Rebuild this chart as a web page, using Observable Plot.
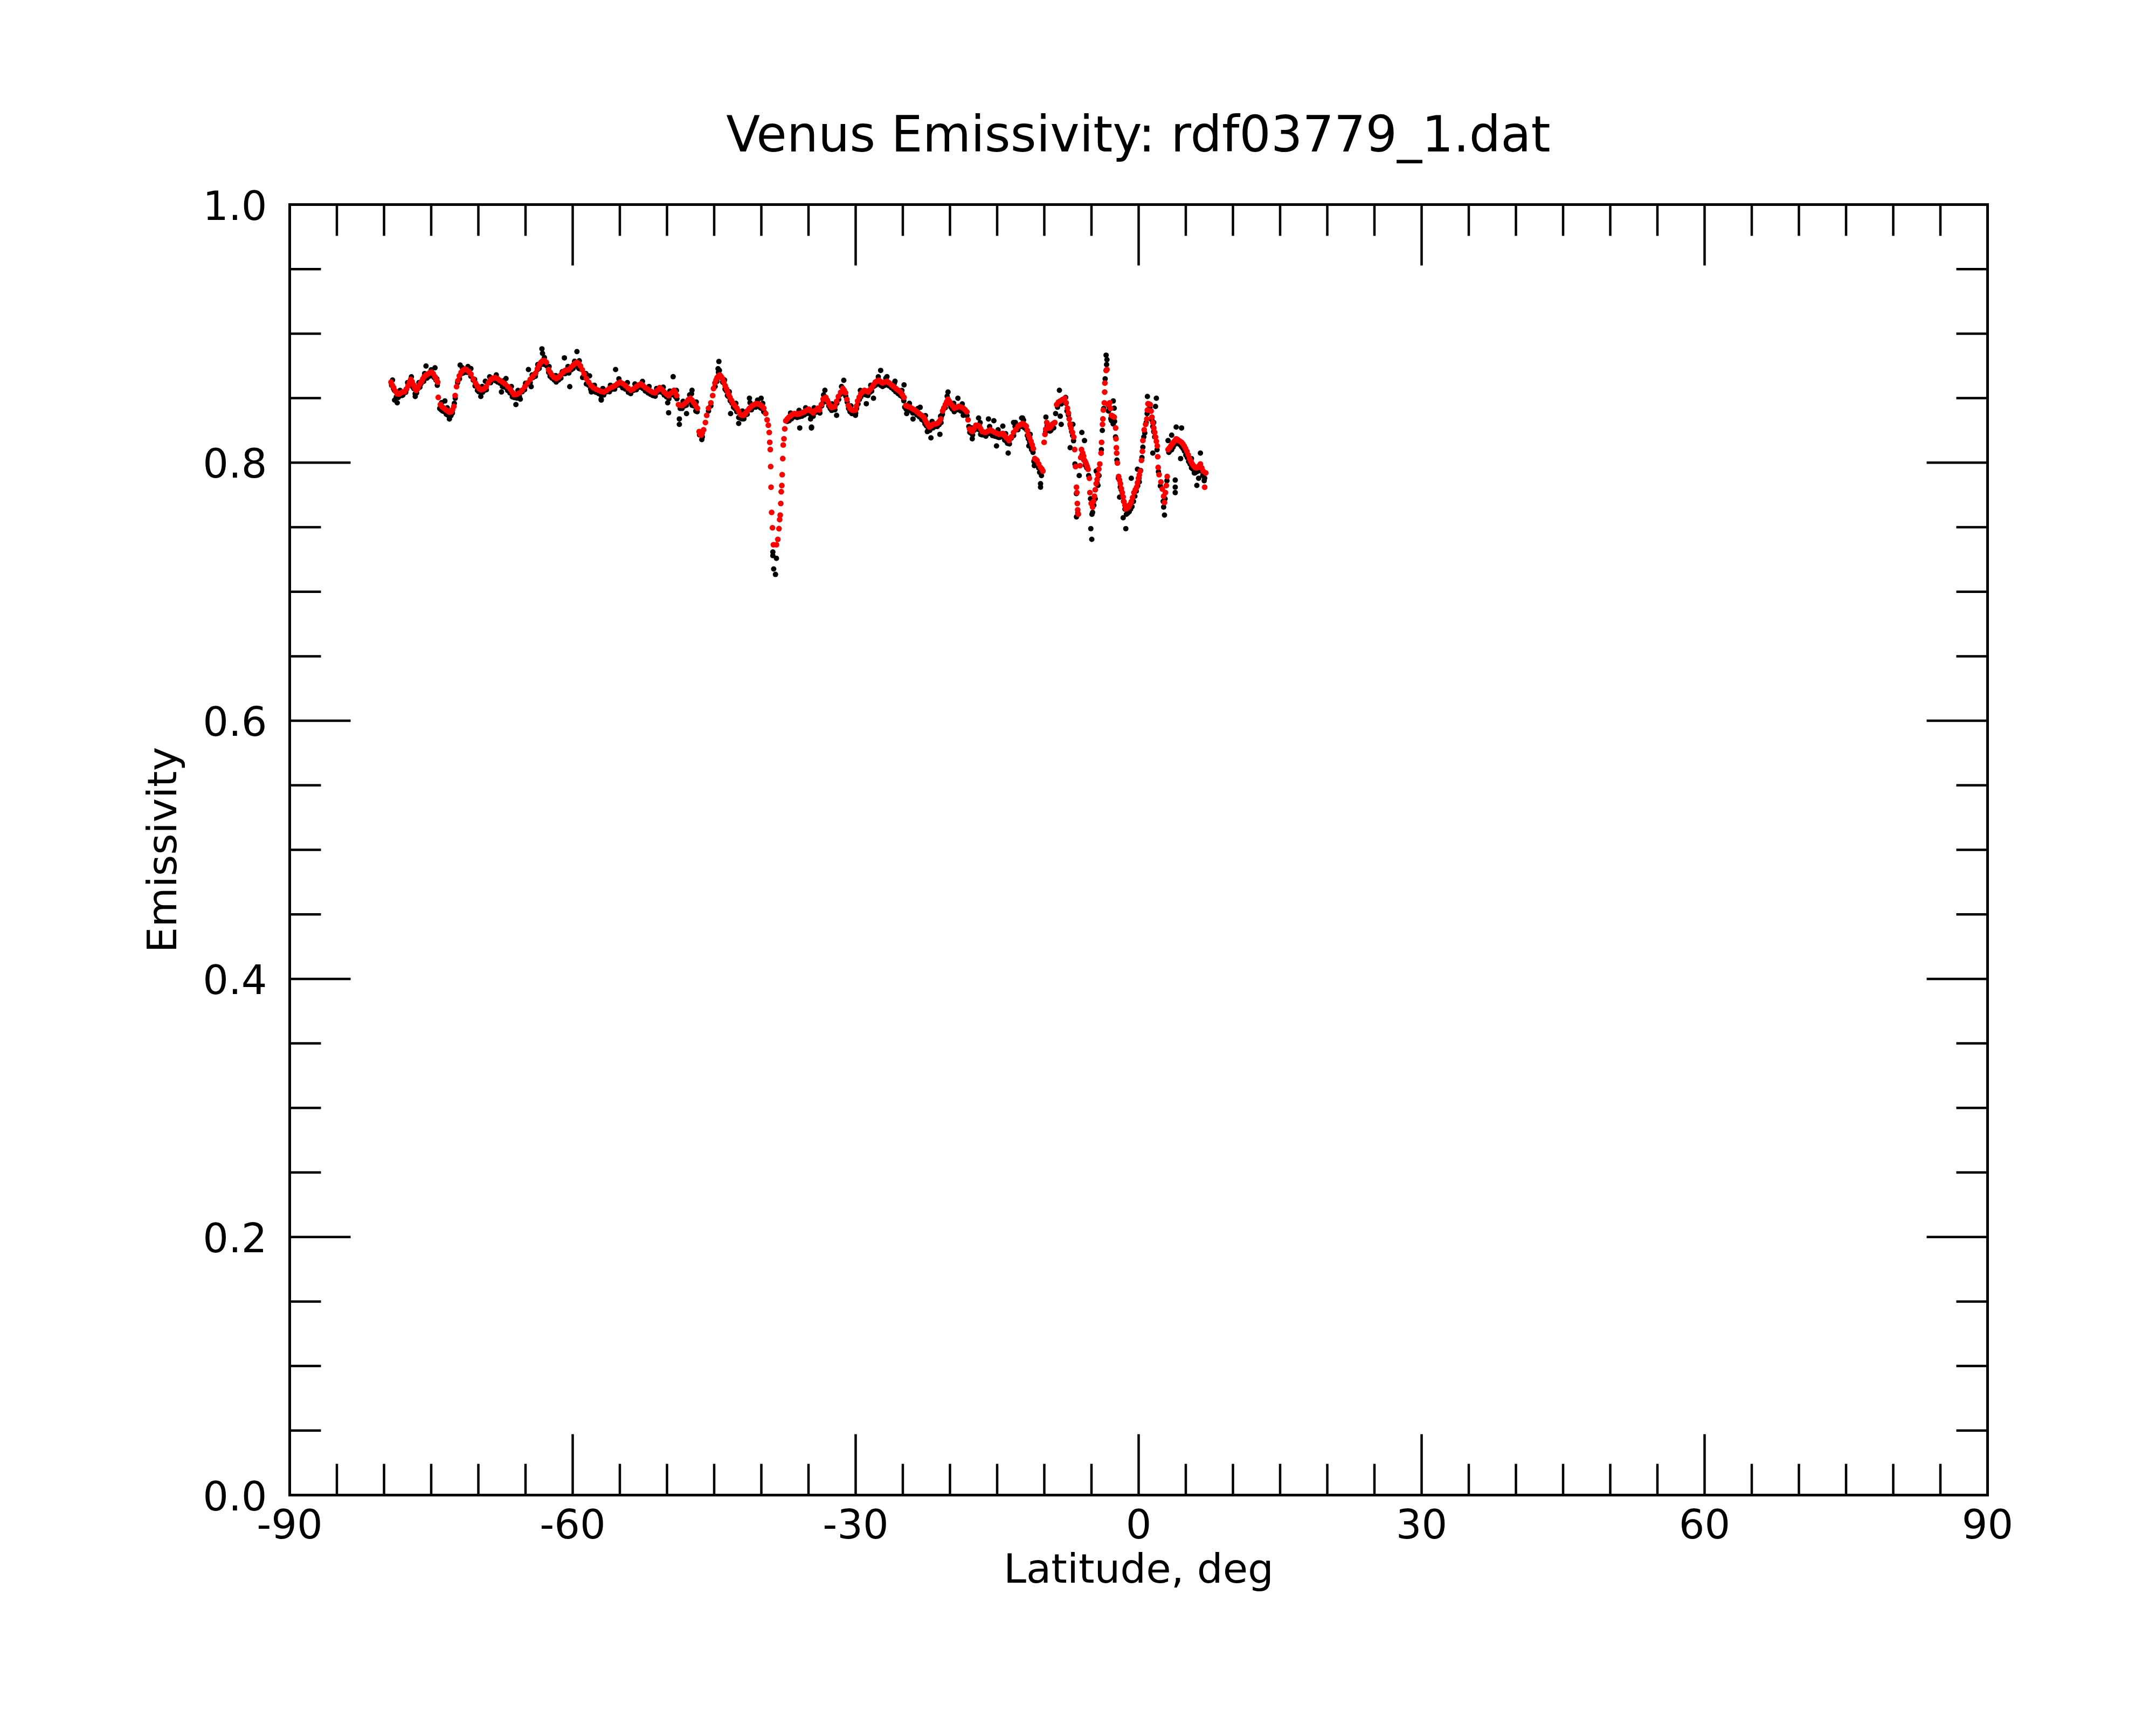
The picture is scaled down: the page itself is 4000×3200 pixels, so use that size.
<!DOCTYPE html>
<html>
<head>
<meta charset="utf-8">
<script src="https://cdn.jsdelivr.net/npm/d3@7"></script>
<script src="https://cdn.jsdelivr.net/npm/@observablehq/plot@0.6"></script>
<style>
  html, body { margin: 0; padding: 0; background: #fff; }
  #page { width: 4000px; height: 3200px; position: relative; background: #fff; font-family: "DejaVu Sans", sans-serif; }
  #title { position: relative; height: 330px; width: 4000px; }
  #title span { position: absolute; left: 537px; width: 3150px; top: 204px; text-align: center;
    font-size: 92px; line-height: 92px; color: #000; white-space: nowrap; }
  #chart svg { display: block; }
</style>
</head>
<body>
<div id="page">
  <div id="title"><span>Venus Emissivity: rdf03779_1.dat</span></div>
  <div id="chart"></div>
</div>
<script>
// ---- tick definitions ----
const xMajorTicks = [-90, -60, -30, 0, 30, 60, 90];
const xMinorTicks = [-85,-80,-75,-70,-65,-55,-50,-45,-40,-35,-25,-20,-15,-10,-5,5,10,15,20,25,35,40,45,50,55,65,70,75,80,85];
const yMajorTicks = [0, 0.2, 0.4, 0.6, 0.8, 1.0];
const yMinorTicks = [0.05,0.1,0.15,0.25,0.3,0.35,0.45,0.5,0.55,0.65,0.7,0.75,0.85,0.9,0.95];
const xTickLabels = ["-90", "-60", "-30", "0", "30", "60", "90"];
const yTickLabels = ["0.0", "0.2", "0.4", "0.6", "0.8", "1.0"];
const xLabel = "Latitude, deg";
const yLabel = "Emissivity";

// ---- smoothed emissivity (red), [latitude, emissivity] ----
const smoothed = [
[-79.26,.8624],[-78.98,.8582],[-78.60,.8534],[-78.21,.8541],[-77.83,.8550],[-77.45,.8596],[-77.17,.8645],[-76.88,.8603],
[-76.60,.8561],[-76.31,.8596],[-76.02,.8630],[-75.74,.8666],[-75.36,.8687],[-74.98,.8701],[-74.60,.8666],[-74.31,.8624],
[-74.25,.8506],[-74.02,.8450],[-73.64,.8422],[-73.26,.8401],[-72.88,.8394],[-72.60,.8436],[-72.46,.8520],[-72.31,.8589],
[-72.02,.8673],[-71.64,.8715],[-71.26,.8722],[-70.79,.8687],[-70.31,.8617],[-69.93,.8575],[-69.55,.8568],[-69.17,.8589],
[-68.69,.8645],[-68.21,.8659],[-67.74,.8638],[-67.17,.8610],[-66.60,.8568],[-66.21,.8527],[-65.64,.8541],[-65.07,.8589],
[-64.50,.8645],[-63.93,.8694],[-63.55,.8756],[-63.17,.8791],[-62.79,.8777],[-62.56,.8722],[-62.21,.8680],[-61.74,.8652],
[-61.26,.8680],[-60.79,.8715],[-60.40,.8722],[-59.93,.8756],[-59.55,.8777],[-59.17,.8749],[-58.79,.8687],[-58.31,.8624],
[-57.83,.8582],[-57.26,.8561],[-56.69,.8548],[-56.12,.8575],[-55.54,.8596],[-54.97,.8624],[-54.40,.8596],[-53.83,.8561],
[-53.26,.8589],[-52.78,.8610],[-52.31,.8582],[-51.74,.8555],[-51.26,.8541],[-50.78,.8582],[-50.31,.8548],[-49.83,.8520],
[-49.26,.8561],[-48.97,.8520],[-48.78,.8450],[-48.40,.8443],[-47.93,.8471],[-47.54,.8499],[-47.16,.8464],[-46.78,.8422],
[-46.59,.8241],[-46.40,.8213],[-46.12,.8255],[-45.93,.8311],[-45.79,.8367],[-45.60,.8422],[-45.35,.8464],[-45.16,.8520],
[-45.07,.8575],[-44.92,.8617],[-44.69,.8659],[-44.40,.8680],[-44.12,.8652],[-43.83,.8596],[-43.58,.8548],[-43.32,.8506],
[-42.97,.8457],[-42.59,.8422],[-42.21,.8373],[-41.87,.8367],[-41.49,.8401],[-41.07,.8436],[-40.59,.8457],[-40.12,.8450],
[-39.74,.8422],[-39.54,.8380],[-39.39,.8332],[-39.26,.8290],[-39.16,.8234],[-39.11,.8158],[-39.05,.8102],[-39.01,.7970],
[-38.97,.7810],[-38.91,.7615],[-38.82,.7496],[-38.72,.7364],[-38.40,.7364],[-38.25,.7406],[-38.13,.7489],[-38.06,.7559],
[-38.00,.7594],[-37.94,.7684],[-37.89,.7775],[-37.83,.7823],[-37.79,.7907],[-37.73,.8032],[-37.68,.8137],[-37.60,.8185],
[-37.52,.8262],[-37.41,.8325],[-37.07,.8353],[-36.78,.8370],[-36.50,.8380],[-36.21,.8375],[-35.93,.8380],[-35.45,.8394],
[-34.97,.8415],[-34.50,.8387],[-34.02,.8422],[-33.83,.8408],[-33.45,.8492],[-33.16,.8506],[-32.87,.8464],[-32.59,.8429],
[-32.21,.8436],[-31.83,.8513],[-31.35,.8575],[-31.07,.8541],[-30.78,.8443],[-30.40,.8408],[-30.02,.8408],[-29.79,.8478],
[-29.45,.8534],[-29.07,.8561],[-28.68,.8548],[-28.30,.8582],[-27.92,.8624],[-27.54,.8638],[-27.16,.8617],[-26.68,.8631],
[-26.21,.8603],[-25.73,.8575],[-25.26,.8548],[-24.87,.8506],[-24.68,.8443],[-24.21,.8429],[-23.73,.8408],[-23.26,.8380],
[-22.78,.8353],[-22.49,.8311],[-22.17,.8276],[-21.83,.8297],[-21.35,.8304],[-20.97,.8339],[-20.78,.8401],[-20.49,.8450],
[-20.21,.8492],[-19.92,.8457],[-19.54,.8422],[-19.07,.8436],[-18.59,.8422],[-18.21,.8394],[-18.09,.8332],[-17.92,.8262],
[-17.64,.8241],[-17.26,.8290],[-16.88,.8283],[-16.59,.8241],[-16.21,.8234],[-15.73,.8255],[-15.26,.8234],[-14.78,.8220],
[-14.40,.8227],[-14.02,.8192],[-13.73,.8171],[-13.26,.8234],[-12.78,.8283],[-12.30,.8304],[-11.92,.8283],[-11.69,.8213],
[-11.41,.8165],[-11.16,.8109],[-11.01,.8032],[-10.78,.8018],[-10.40,.7963],[-10.15,.7935],[-10.02,.8158],[-9.93,.8220],
[-9.74,.8311],[-9.45,.8269],[-9.17,.8297],[-8.88,.8311],[-8.69,.8450],[-8.31,.8478],[-7.83,.8499],[-7.55,.8422],
[-7.36,.8339],[-7.17,.8269],[-6.88,.8199],[-6.78,.8102],[-6.69,.7970],[-6.59,.7810],[-6.55,.7768],[-6.50,.7684],
[-6.46,.7635],[-6.40,.7601],[-6.21,.7977],[-6.06,.8102],[-5.93,.8074],[-5.74,.8018],[-5.55,.7990],[-5.36,.7949],
[-5.22,.7879],[-5.17,.7768],[-5.03,.7684],[-4.88,.7656],[-4.69,.7740],[-4.50,.7837],[-4.31,.7907],[-4.12,.7990],
[-3.98,.8074],[-3.93,.8158],[-3.83,.8297],[-3.79,.8339],[-3.74,.8408],[-3.64,.8464],[-3.60,.8547],[-3.58,.8617],
[-3.45,.8715],[-3.36,.8722],[-3.26,.8450],[-3.07,.8464],[-2.88,.8367],[-2.59,.8353],[-2.44,.8269],[-2.40,.8185],
[-2.36,.8116],[-2.33,.8074],[-2.25,.7997],[-2.12,.7893],[-1.93,.7837],[-1.74,.7768],[-1.55,.7698],[-1.36,.7642],
[-1.07,.7656],[-0.78,.7698],[-0.50,.7768],[-0.21,.7810],[-0.02,.7879],[0.17,.7935],[0.30,.8018],[0.40,.8088],
[0.45,.8171],[0.59,.8255],[0.74,.8297],[0.87,.8339],[0.93,.8408],[0.99,.8457],[1.22,.8450],[1.41,.8353],
[1.60,.8269],[1.79,.8199],[1.98,.8130],[2.02,.8046],[2.07,.7963],[2.17,.7907],[2.36,.7851],[2.51,.7796],
[2.65,.7740],[2.74,.7691],[2.84,.7768],[2.93,.7823],[3.03,.7893],[3.12,.8102],[3.41,.8130],[3.69,.8158],
[3.98,.8185],[4.26,.8171],[4.55,.8158],[4.83,.8130],[5.12,.8088],[5.41,.8032],[5.69,.7990],[5.98,.7963],
[6.26,.7963],[6.55,.7990],[6.83,.7935],[7.00,.7810],[7.12,.7921]
];

// ---- further red samples read between the ones above ----
const smoothedMore = [
[-79.12,.8600],[-78.80,.8555],[-78.40,.8532],[-78.02,.8548],[-77.64,.8570],[-77.31,.8625],[-77.02,.8628],[-76.74,.8580],
[-76.45,.8575],[-76.16,.8615],[-75.88,.8650],[-75.55,.8680],[-75.17,.8697],[-74.79,.8690],[-74.45,.8645],[-73.83,.8432],
[-73.45,.8410],[-73.07,.8392],[-72.74,.8410],[-72.17,.8635],[-71.83,.8700],[-71.45,.8725],[-71.03,.8708],[-70.55,.8650],
[-70.12,.8595],[-69.74,.8565],[-69.36,.8575],[-68.93,.8620],[-68.45,.8655],[-67.98,.8652],[-67.45,.8625],[-66.88,.8590],
[-66.40,.8545],[-65.93,.8530],[-65.35,.8562],[-64.78,.8618],[-64.22,.8670],[-63.74,.8728],[-63.36,.8778],[-62.98,.8790],
[-62.38,.8700],[-61.98,.8662],[-61.50,.8662],[-61.02,.8700],[-60.60,.8718],[-60.16,.8740],[-59.74,.8770],[-59.36,.8768],
[-58.98,.8720],[-58.55,.8652],[-58.07,.8600],[-57.55,.8570],[-56.98,.8552],
[-56.40,.8560],[-55.83,.8585],[-55.25,.8612],[-54.68,.8612],[-54.12,.8578],[-53.55,.8572],[-53.02,.8602],[-52.55,.8598],
[-52.02,.8568],[-51.50,.8545],[-51.02,.8560],[-50.55,.8568],[-50.07,.8532],[-49.55,.8540],[-49.12,.8545],[-48.60,.8445],
[-48.17,.8455],[-47.74,.8488],[-47.35,.8485],[-46.97,.8445],[-46.50,.8225],[-46.26,.8230],[-44.80,.8640],[-44.55,.8672],
[-44.26,.8668],[-43.98,.8625],[-43.70,.8572],[-43.45,.8527],[-43.15,.8482],[-42.78,.8440],[-42.40,.8398],[-42.04,.8368],
[-41.68,.8382],[-41.28,.8420],[-40.83,.8448],[-40.35,.8455],[-39.93,.8438],[-37.24,.8340],[-36.92,.8360],[-36.64,.8377],
[-36.36,.8378],[-36.07,.8378],[-35.69,.8387],[-35.21,.8405],[-34.74,.8400],[-34.26,.8405],[-33.93,.8415],
[-33.64,.8450],[-33.30,.8500],[-33.01,.8485],[-32.73,.8445],[-32.40,.8430],[-32.02,.8475],[-31.59,.8545],[-31.21,.8560],
[-30.93,.8490],[-30.59,.8420],[-30.21,.8405],[-29.90,.8440],[-29.62,.8508],[-29.26,.8550],[-28.87,.8555],[-28.49,.8565],
[-28.11,.8605],[-27.73,.8633],[-27.35,.8628],[-26.92,.8625],[-26.45,.8618],[-25.97,.8590],[-25.50,.8562],[-25.06,.8528],
[-24.45,.8435],[-23.97,.8418],[-23.50,.8395],[-23.02,.8368],[-22.64,.8332],[-22.33,.8292],[-22.00,.8285],[-21.59,.8300],
[-21.16,.8318],[-20.64,.8425],[-20.35,.8472],[-20.06,.8475],[-19.73,.8440],[-19.30,.8428],[-18.83,.8430],[-18.40,.8410],
[-17.78,.8250],[-17.45,.8265],[-17.07,.8288],[-16.74,.8262],[-16.40,.8237],[-15.97,.8245],[-15.50,.8245],[-15.02,.8227],
[-14.59,.8223],[-14.21,.8210],[-13.50,.8200],[-13.02,.8258],[-12.54,.8295],[-12.11,.8295],[-11.80,.8250],[-11.55,.8190],
[-11.28,.8138],[-10.90,.8025],[-10.59,.7990],
[-10.25,.7950],[-9.85,.8260],[-9.60,.8290],[-9.30,.8280],[-9.02,.8305],[-8.50,.8470],[-8.07,.8490],[-7.69,.8465],
[-7.45,.8385],[-7.26,.8300],[-7.02,.8235],[-6.14,.8040],[-5.83,.8050],[-5.64,.8005],[-5.45,.7970],[-4.78,.7700],
[-4.60,.7790],[-4.40,.7870],[-4.22,.7950],[-3.17,.8455],[-2.98,.8420],[-2.74,.8360],[-2.03,.7865],[-1.84,.7800],
[-1.64,.7735],[-1.45,.7670],[-1.22,.7648],[-0.93,.7675],[-0.64,.7730],[-0.35,.7790],[-0.12,.7845],[0.07,.7905],
[1.10,.8455],[1.32,.8400],[1.50,.8310],[1.70,.8235],[1.88,.8165],[3.27,.8115],[3.55,.8145],[3.83,.8170],
[4.12,.8180],[4.40,.8165],[4.69,.8145],[4.97,.8110],[5.26,.8060],[5.55,.8010],[5.83,.7975],[6.12,.7960],
[6.40,.7975],[6.69,.7960]
];

// ---- raw emissivity samples (black), [latitude, emissivity] ----
const raw = [
[-79.2,.8600],[-78.9,.8560],[-78.7,.8510],[-78.4,.8515],[-78.0,.8525],[-77.6,.8570],[-77.3,.8625],[-77.0,.8590],
[-76.7,.8535],[-76.45,.8570],[-76.1,.8610],[-75.9,.8640],[-75.6,.8660],[-75.2,.8670],[-74.8,.8680],[-74.5,.8640],
[-74.1,.8420],[-73.8,.8400],[-73.4,.8375],[-73.1,.8360],[-72.75,.8385],[-72.2,.8620],[-71.8,.8690],[-71.45,.8700],
[-71.0,.8700],[-70.55,.8640],[-70.1,.8560],[-69.75,.8545],[-69.35,.8560],[-68.9,.8620],[-68.45,.8640],[-67.95,.8625],
[-67.45,.8590],[-66.9,.8560],[-66.4,.8510],[-65.9,.8500],[-65.35,.8550],[-64.8,.8610],[-64.2,.8660],[-63.75,.8720],
[-63.35,.8760],[-62.95,.8760],[-62.4,.8670],[-61.95,.8640],[-61.5,.8640],[-61.0,.8690],[-60.6,.8700],[-60.15,.8720],
[-59.75,.8750],[-59.35,.8730],[-58.95,.8660],[-58.55,.8610],[-58.1,.8570],[-57.55,.8545],[-57.0,.8525],
[-78.60,.8464],[-78.88,.8485],[-76.69,.8513],[-75.55,.8749],[-74.60,.8735],[-73.55,.8478],[-73.07,.8339],[-71.93,.8756],
[-70.79,.8729],[-69.26,.8631],[-69.74,.8513],[-67.55,.8548],[-67.07,.8652],[-66.02,.8450],[-65.55,.8492],[-64.69,.8722],
[-64.40,.8589],[-63.26,.8882],[-63.20,.8847],[-60.88,.8812],[-59.55,.8861],[-60.31,.8589],[-58.21,.8673],[-56.98,.8492],
[-58.02,.8548],
[-56.4,.8550],[-55.8,.8570],[-55.25,.8600],[-54.7,.8580],[-54.1,.8545],[-53.55,.8560],[-53.0,.8585],[-52.55,.8575],
[-52.0,.8540],[-51.5,.8520],[-51.0,.8545],[-50.55,.8545],[-50.05,.8510],[-49.55,.8525],[-49.1,.8510],[-48.6,.8420],
[-48.15,.8440],[-47.75,.8470],[-47.35,.8445],[-46.95,.8400],[-46.55,.8215],[-46.25,.8200],[-44.55,.8700],[-44.3,.8660],
[-44.0,.8620],[-43.7,.8555],[-43.45,.8510],[-43.1,.8460],[-42.8,.8420],[-42.4,.8350],[-42.05,.8340],[-41.7,.8370],
[-41.3,.8410],[-40.85,.8430],[-40.35,.8440],[-39.95,.8420],[-39.65,.8390],[-37.25,.8320],[-36.8,.8340],[-36.2,.8350],
[-35.7,.8360],[-35.2,.8380],[-34.75,.8370],[-34.25,.8390],
[-55.45,.8722],[-56.97,.8485],[-49.35,.8666],[-49.93,.8464],[-49.83,.8387],[-48.69,.8339],[-48.69,.8297],[-47.93,.8380],
[-47.35,.8561],[-47.40,.8534],[-46.31,.8179],[-44.50,.8784],[-44.59,.8728],[-43.26,.8380],[-42.40,.8304],[-41.26,.8499],
[-40.02,.8499],[-35.93,.8269],[-34.69,.8269],[-38.78,.7280],[-38.40,.7259],[-38.69,.7176],[-38.50,.7134],[-38.78,.7308],
[-33.6,.8440],[-33.3,.8480],[-33.0,.8470],[-32.7,.8420],[-32.4,.8410],[-32.0,.8460],[-31.6,.8530],[-31.2,.8540],
[-30.9,.8470],[-30.6,.8395],[-30.2,.8390],[-29.9,.8420],[-29.6,.8490],[-29.25,.8530],[-28.9,.8525],[-28.5,.8545],
[-28.1,.8590],[-27.7,.8610],[-27.35,.8600],[-26.9,.8600],[-26.45,.8595],[-25.95,.8565],[-25.5,.8535],[-25.05,.8510],
[-24.8,.8430],[-24.45,.8400],[-23.95,.8385],[-23.5,.8370],[-23.0,.8335],[-22.65,.8300],[-22.3,.8255],[-22.0,.8270],
[-21.6,.8280],[-21.15,.8295],[-20.9,.8360],[-20.65,.8420],[-20.35,.8460],[-20.05,.8455],[-19.75,.8415],[-19.3,.8410],
[-18.85,.8400],[-18.4,.8380],[-18.0,.8280],[-17.8,.8230],[-17.45,.8250],[-17.05,.8260],[-16.75,.8220],[-16.4,.8215],
[-15.95,.8225],[-15.5,.8210],[-15.0,.8200],[-14.6,.8200],[-14.2,.8175],[-13.9,.8150],[-13.5,.8190],[-13.0,.8255],
[-12.55,.8280],[-12.1,.8270],[-11.8,.8210],[-11.55,.8160],[-11.3,.8110],[-11.1,.8010],
[-34.68,.8276],[-34.78,.8339],[-33.26,.8561],[-31.26,.8638],[-32.02,.8367],[-30.02,.8367],[-28.87,.8457],[-28.11,.8499],
[-27.35,.8715],[-26.68,.8666],[-25.83,.8631],[-24.87,.8603],[-24.59,.8380],[-23.92,.8339],[-23.16,.8429],[-22.40,.8241],
[-22.02,.8192],[-21.07,.8220],[-20.21,.8547],[-19.16,.8499],[-18.59,.8367],[-17.64,.8185],[-16.97,.8346],[-15.92,.8339],
[-15.35,.8325],[-15.07,.8130],[-13.83,.8074],[-14.40,.8283],[-13.26,.8311],[-12.30,.8346],[-11.64,.8130],[-11.06,.7977],
[-10.6,.7960],[-10.3,.7900],[-9.85,.8240],[-9.6,.8270],[-9.3,.8250],[-9.0,.8270],[-8.8,.8380],[-8.5,.8460],
[-8.1,.8470],[-7.7,.8460],[-7.45,.8370],[-7.25,.8290],[-7.0,.8210],[-6.75,.7990],[-6.6,.7760],[-6.45,.7610],
[-6.3,.7900],[-6.0,.8060],[-5.65,.7980],[-5.3,.7900],[-5.1,.7720],[-4.95,.7600],[-4.6,.7720],[-4.2,.7900],
[-3.95,.8100],[-3.85,.8250],[-3.7,.8420],[-3.55,.8650],[-3.4,.8760],[-3.2,.8400],[-2.95,.8340],[-2.7,.8300],
[-2.45,.8200],[-2.3,.8020],[-2.15,.7880],[-1.85,.7790],[-1.6,.7700],[-1.3,.7600],[-1.0,.7620],[-0.7,.7660],
[-0.4,.7740],[-0.1,.7820],[0.2,.7940],[0.45,.8120],[0.65,.8230],[0.9,.8380],[1.1,.8450],[1.3,.8400],
[1.5,.8280],[1.7,.8200],[1.95,.8100],[2.1,.7930],[2.3,.7820],[2.6,.7700],[2.8,.7720],[3.0,.7860],
[3.2,.8080],[3.5,.8100],[3.8,.8140],[4.1,.8160],[4.4,.8140],[4.7,.8110],[5.0,.8060],[5.3,.8010],
[5.6,.7960],[5.9,.7920],[6.2,.7930],[6.5,.7950],[6.8,.7900],[7.0,.7880],
[-10.40,.7837],[-10.40,.7810],[-13.07,.8311],[-12.40,.8346],[-11.36,.8102],[-9.83,.8353],[-8.40,.8561],[-7.74,.8506],
[-8.31,.8360],[-8.21,.8297],[-7.26,.8116],[-6.97,.8297],[-6.02,.8234],[-6.59,.7580],[-6.40,.7601],[-5.74,.8171],
[-5.07,.7489],[-4.97,.7406],[-4.88,.7615],[-4.50,.7935],[-4.31,.7824],[-3.45,.8833],[-3.36,.8798],[-2.69,.8478],
[-2.59,.8422],[-2.88,.8325],[-2.02,.7733],[-1.64,.7573],[-1.36,.7489],[-0.78,.7879],[-0.12,.7949],[0.07,.7851],
[0.93,.8513],[1.88,.8499],[1.79,.8436],[1.60,.8311],[1.50,.8074],[2.65,.7656],[2.74,.7594],[3.88,.7865],
[3.88,.7810],[3.88,.7768],[3.98,.8276],[4.55,.8269],[3.12,.8171],[3.50,.8213],[4.45,.8032],[5.60,.8032],
[5.98,.7921],[6.17,.7824],[6.55,.8074],[6.36,.7879]
];

// ---- further black samples read along the lower edge of the band ----
const rawMore = [
[-79.0,.8575],[-78.5,.8505],[-78.1,.8520],[-77.7,.8545],[-77.2,.8605],[-76.85,.8575],[-76.55,.8540],[-76.2,.8585],
[-75.8,.8630],[-75.45,.8655],[-75.05,.8675],[-74.7,.8660],[-74.35,.8600],[-73.95,.8410],[-73.6,.8395],[-73.25,.8370],
[-72.9,.8365],[-72.45,.8500],[-72.0,.8650],[-71.6,.8695],[-71.2,.8700],[-70.8,.8670],[-70.35,.8595],[-69.95,.8550],
[-69.55,.8545],[-69.15,.8565],[-68.7,.8620],[-68.2,.8635],[-67.7,.8615],[-67.2,.8585],[-66.65,.8540],[-66.2,.8505],
[-65.65,.8515],[-65.1,.8565],[-64.5,.8620],[-63.95,.8670],[-63.55,.8730],[-63.15,.8765],[-62.75,.8750],[-62.55,.8700],
[-62.2,.8655],[-61.75,.8625],[-61.25,.8655],[-60.8,.8690],[-60.4,.8695],[-59.95,.8730],[-59.55,.8750],[-59.15,.8725],
[-58.75,.8660],[-58.3,.8600],[-57.8,.8555],[-57.25,.8535],[-56.7,.8525],
[-56.1,.8550],[-55.55,.8570],[-54.95,.8600],[-54.4,.8570],[-53.85,.8535],[-53.25,.8565],[-52.8,.8585],[-52.3,.8555],
[-51.75,.8530],[-51.25,.8515],[-50.8,.8555],[-50.3,.8525],[-49.8,.8495],[-49.3,.8535],[-48.95,.8495],[-48.4,.8420],
[-47.95,.8445],[-47.55,.8475],[-47.15,.8440],[-46.8,.8395],[-45.6,.8400],[-45.35,.8440],[-44.9,.8590],[-44.7,.8630],
[-44.1,.8625],[-43.85,.8570],[-43.6,.8520],[-43.3,.8480],[-42.95,.8430],[-42.6,.8395],[-42.2,.8345],[-41.85,.8340],
[-41.5,.8375],[-41.05,.8410],[-40.6,.8430],[-40.1,.8425],[-39.75,.8395],[-37.05,.8325],[-36.5,.8355],[-35.95,.8355],
[-35.45,.8370],[-34.95,.8390],[-34.5,.8360],[-34.0,.8395],
[-33.8,.8385],[-33.45,.8465],[-33.15,.8480],[-32.85,.8440],[-32.55,.8405],[-32.2,.8410],[-31.8,.8490],[-31.4,.8550],
[-31.05,.8515],[-30.75,.8420],[-30.4,.8380],[-30.0,.8385],[-29.75,.8455],[-29.45,.8510],[-29.05,.8535],[-28.7,.8520],
[-28.3,.8555],[-27.9,.8600],[-27.55,.8610],[-27.15,.8590],[-26.7,.8605],[-26.2,.8580],[-25.75,.8550],[-25.25,.8520],
[-24.9,.8480],[-24.65,.8415],[-24.2,.8405],[-23.75,.8385],[-23.25,.8355],[-22.8,.8325],[-22.5,.8285],[-22.15,.8250],
[-21.8,.8270],[-21.35,.8280],[-20.95,.8310],[-20.8,.8375],[-20.5,.8425],[-20.2,.8465],[-19.9,.8430],[-19.55,.8395],
[-19.05,.8410],[-18.6,.8395],[-18.2,.8365],[-17.9,.8235],[-17.6,.8215],[-17.25,.8265],[-16.9,.8255],[-16.6,.8215],
[-16.2,.8205],[-15.75,.8230],[-15.25,.8205],[-14.8,.8195],[-14.4,.8200],[-14.0,.8165],[-13.7,.8145],[-13.25,.8210],
[-12.8,.8255],[-12.3,.8280],[-11.9,.8255],[-11.7,.8185],[-11.4,.8135],[-11.2,.8080],[-10.85,.7990],
[-10.5,.7925],[-9.7,.8285],[-9.4,.8245],[-9.1,.8275],[-8.6,.8430],[-8.2,.8455],[-7.9,.8470],[-7.6,.8400],
[-7.1,.8240],[-6.9,.8170],[-5.8,.8020],[-5.5,.7960],[-4.75,.7670],[-4.4,.7840],[-3.1,.8430],[-2.8,.8330],
[-2.55,.8320],[-1.95,.7810],[-1.45,.7640],[-1.15,.7610],[-0.85,.7640],[-0.55,.7700],[-0.25,.7780],[0.05,.7880],
[0.35,.8040],[0.55,.8200],[0.8,.8310],[1.2,.8430],[1.4,.8330],[1.6,.8240],[3.3,.8090],[3.65,.8120],
[3.95,.8150],[4.25,.8145],[4.55,.8125],[4.85,.8090],[5.15,.8040],[5.45,.7990],[5.75,.7950],[6.05,.7930],
[6.35,.7945],[6.65,.7935],[6.95,.7860]
];

// ---- black samples read along the upper edge of the band ----
const rawUpper = [
[-79.1,.8640],[-78.3,.8560],[-77.5,.8620],[-77.1,.8665],[-76.3,.8620],[-75.7,.8690],[-75.0,.8720],[-74.4,.8650],
[-73.9,.8465],[-73.3,.8425],[-72.55,.8460],[-71.7,.8735],[-71.1,.8745],[-70.4,.8645],[-69.6,.8590],[-68.8,.8665],
[-68.1,.8680],[-67.3,.8635],[-66.5,.8590],[-65.8,.8560],[-65.0,.8615],[-64.3,.8680],[-63.7,.8760],[-63.0,.8815],
[-62.5,.8745],[-61.8,.8675],[-61.1,.8705],[-60.5,.8745],[-59.8,.8785],[-59.3,.8790],[-58.6,.8690],[-57.7,.8600],
[-56.8,.8575],
[-56.0,.8600],[-55.1,.8650],[-54.2,.8620],[-53.4,.8610],[-52.6,.8630],[-51.9,.8590],[-51.1,.8575],[-50.4,.8585],
[-49.7,.8555],[-49.0,.8560],[-48.3,.8475],[-47.6,.8525],[-46.9,.8470],[-44.45,.8715],[-43.9,.8640],[-43.4,.8550],
[-42.7,.8460],[-42.0,.8400],[-41.2,.8465],[-40.4,.8485],[-39.85,.8460],[-36.9,.8385],[-36.0,.8405],[-35.3,.8425],
[-34.4,.8425],
[-33.4,.8525],[-32.5,.8455],[-31.5,.8590],[-30.5,.8440],[-29.5,.8560],[-28.4,.8600],[-27.6,.8665],[-26.8,.8655],
[-25.9,.8615],[-25.1,.8560],[-24.3,.8460],[-23.4,.8420],[-22.6,.8365],[-21.9,.8320],[-21.0,.8360],[-20.3,.8515],
[-19.6,.8460],[-18.7,.8455],[-17.7,.8270],[-16.8,.8310],[-15.8,.8280],[-14.9,.8255],[-14.1,.8225],[-13.1,.8280],
[-12.2,.8330],[-11.5,.8220]
];

// ---- rendering ----
const rawAll = raw.concat(rawMore, rawUpper);
const smoothAll = smoothed.concat(smoothedMore);
const tickShape = { draw(ctx, l) { ctx.moveTo(0, 0); ctx.lineTo(0, -l); } };
const MAJ = 113, MIN = 58, TW = 4.5;
function ticksX(values, len, anchor) {
  return Plot.vector(values, { x: d => d, frameAnchor: anchor, length: len, rotate: anchor === "bottom" ? 0 : 180,
    anchor: "start", shape: tickShape, stroke: "black", strokeWidth: TW, strokeLinecap: "butt" });
}
function ticksY(values, len, anchor) {
  return Plot.vector(values, { y: d => d, frameAnchor: anchor, length: len, rotate: anchor === "left" ? 90 : 270,
    anchor: "start", shape: tickShape, stroke: "black", strokeWidth: TW, strokeLinecap: "butt" });
}

const chart = Plot.plot({
  width: 4000,
  height: 2870,
  marginTop: 49,
  marginBottom: 427,
  marginLeft: 537,
  marginRight: 313,
  style: { fontFamily: "DejaVu Sans", fontSize: "75px", color: "black", background: "white", overflow: "visible" },
  x: { domain: [-90, 90], axis: null },
  y: { domain: [0, 1], axis: null },
  marks: [
    Plot.dot(rawAll, { x: d => d[0], y: d => d[1], r: 5, fill: "black", stroke: "none" }),
    Plot.dot(smoothAll, { x: d => d[0], y: d => d[1], r: 5.3, fill: "#ff0000", stroke: "none" }),
    ticksX(xMajorTicks, MAJ, "bottom"), ticksX(xMinorTicks, MIN, "bottom"),
    ticksX(xMajorTicks, MAJ, "top"), ticksX(xMinorTicks, MIN, "top"),
    ticksY(yMajorTicks, MAJ, "left"), ticksY(yMinorTicks, MIN, "left"),
    ticksY(yMajorTicks, MAJ, "right"), ticksY(yMinorTicks, MIN, "right"),
    Plot.frame({ stroke: "black", strokeWidth: 5 }),
    Plot.text(xMajorTicks, { x: d => d, frameAnchor: "bottom", text: (d, i) => xTickLabels[i],
      lineAnchor: "top", dy: 27, fontSize: 75, fill: "black", textAnchor: "middle" }),
    Plot.text(yMajorTicks, { y: d => d, frameAnchor: "left", text: (d, i) => yTickLabels[i],
      lineAnchor: "middle", dx: -42, dy: 4, fontSize: 75, fill: "black", textAnchor: "end" }),
    Plot.text([xLabel], { frameAnchor: "bottom", text: d => d, lineAnchor: "bottom", dy: 162,
      fontSize: 75.5, fill: "black", textAnchor: "middle" }),
    Plot.text([yLabel], { frameAnchor: "left", text: d => d, rotate: -90, lineAnchor: "bottom", dx: -211,
      fontSize: 75.5, fill: "black", textAnchor: "middle" })
  ]
});
document.getElementById("chart").appendChild(chart);
</script>
</body>
</html>
